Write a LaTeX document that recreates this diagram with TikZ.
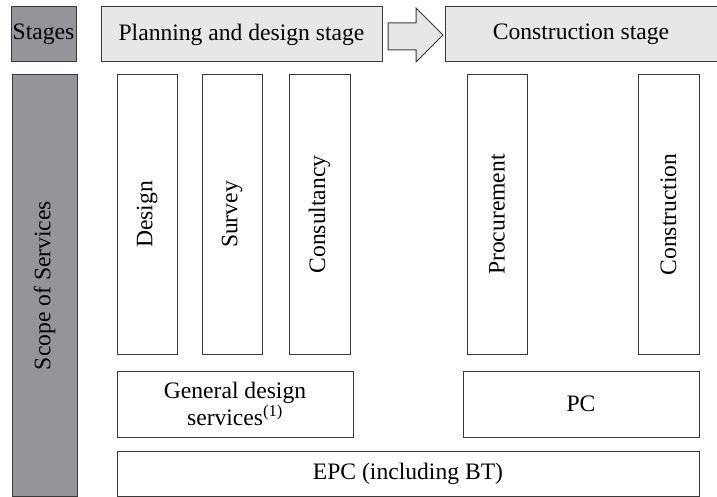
\documentclass[tikz,border=0pt]{standalone}
\usepackage{fontspec}
\setmainfont{Liberation Serif}
\definecolor{darkfill}{HTML}{939598}
\definecolor{lightfill}{HTML}{E6E7E8}
\definecolor{edge}{HTML}{3A3A3A}
\begin{document}
\begin{tikzpicture}[x=1pt,y=-1pt,
  base/.style={draw=edge, line width=1pt, inner sep=0pt, align=center, text=black,
    font=\fontsize{23.6}{25.5}\selectfont},
  darkbox/.style={base, fill=darkfill},
  stagebox/.style={base, fill=lightfill},
  whitebox/.style={base, fill=white},
  vbox/.style={whitebox, rotate=90, minimum width=279pt, minimum height=60pt},
  arrowshape/.style={draw=edge, line width=1pt, fill=lightfill, line join=miter}]
\useasboundingbox (0,0) rectangle (717,497);
% stage row
\node[darkbox, minimum width=65pt, minimum height=55pt] (stages) at (43.5,34.5) {Stages};
\node[stagebox, minimum width=281pt, minimum height=55pt] (plan) at (241.5,34.5) {Planning and design stage};
\node[stagebox, minimum width=272pt, minimum height=55pt] (cons) at (581,34.5) {Construction stage};
\draw[arrowshape] (388,23) -- (416,23) -- (416,8) -- (443,35) -- (416,62) -- (416,50) -- (388,50) -- cycle;
% scope
\node[darkbox, rotate=90, minimum width=421pt, minimum height=65pt] (scope) at (44.5,285.5) {Scope of Services};
% vertical services
\node[vbox] (design) at (147,214.5) {Design};
\node[vbox] (survey) at (232,214.5) {Survey};
\node[vbox, minimum height=61pt] (consult) at (319.5,214.5) {Consultancy};
\node[vbox] (procure) at (497,214.5) {Procurement};
\node[vbox, minimum height=61pt] (construct) at (668.5,214.5) {Construction};
% combined services
\node[whitebox, minimum width=236pt, minimum height=66pt] (general) at (235,404) {General design\\services\textsuperscript{(1)}};
\node[whitebox, minimum width=236pt, minimum height=66pt] (pc) at (581,404) {PC};
\node[whitebox, minimum width=582pt, minimum height=45pt] (epc) at (408,473.5) {EPC (including BT)};
\end{tikzpicture}
\end{document}
